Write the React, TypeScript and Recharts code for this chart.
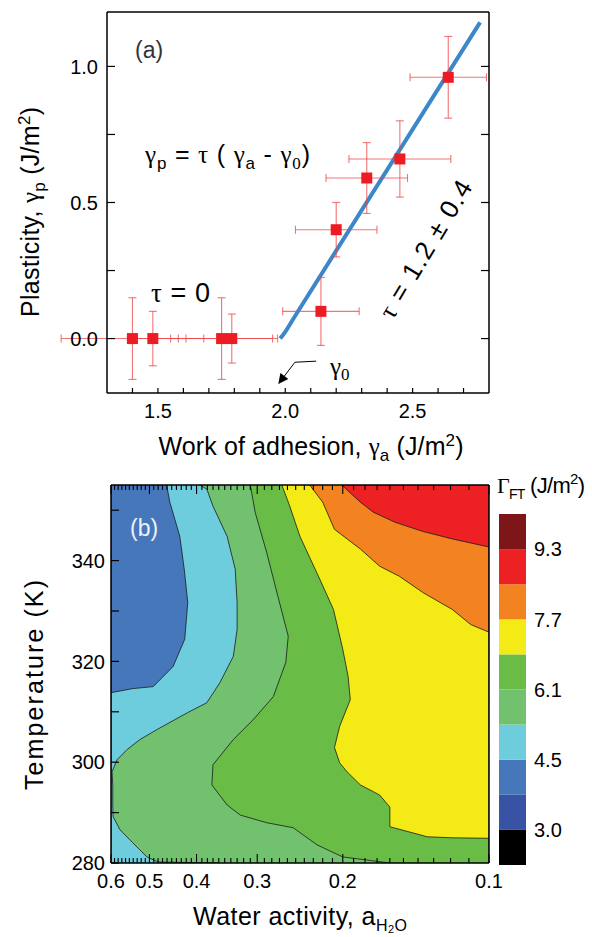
import React from 'react';
import {
  ComposedChart, BarChart, Bar, Scatter, Line, Area, XAxis, YAxis, ZAxis, ErrorBar, ReferenceLine,
} from 'recharts';

const SANS = "'Liberation Sans', Arial, sans-serif";
const SERIF = "'Liberation Serif', 'DejaVu Serif', serif";

// ---- (a) plasticity vs work of adhesion
const gammaA = [1.40, 1.48, 1.75, 1.79, 2.14, 2.20, 2.32, 2.45, 2.64];
const gammaP = [0, 0, 0, 0, 0.10, 0.40, 0.59, 0.66, 0.96];
const gammaAErr = [0.28, 0.10, 0.20, 0.18, 0.15, 0.16, 0.16, 0.20, 0.15];
const gammaPErr = [0.15, 0.10, 0.15, 0.09, 0.125, 0.10, 0.13, 0.14, 0.15];

// fitted line gamma_p = tau (gamma_a - gamma_0)
const fitA = [1.98, 2.0, 2.03, 2.07, 2.765];
const fitP = [0, 0.025, 0.07, 0.13, 1.162];

// arrow pointing at gamma_0
const arrowA = [2.121, 2.038, 1.975];
const arrowP = [-0.083, -0.087, -0.164];

const adhesionTicks = [1.4, 1.5, 1.6, 1.7, 1.8, 1.9, 2.0, 2.1, 2.2, 2.3, 2.4, 2.5, 2.6, 2.7];
const adhesionLabels = [1.5, 2.0, 2.5];
const plastTicks = [0, 0.25, 0.5, 0.75, 1.0];
const plastLabels = [0, 0.5, 1.0];

// ---- (b) fracture toughness map, boundaries of each level set (T in K, water activity)
const baseT = [280, 355];
const baseA = [0.6, 0.6];
const cyanT = [280, 313.8, 314.6, 315.0, 319.0, 324.4, 331.7, 338.3, 344.8, 351.6, 355];
const cyanA = [0.6, 0.6, 0.541, 0.491, 0.447, 0.423, 0.417, 0.424, 0.433, 0.454, 0.461];
const lightGreenT = [280, 280.2, 281.2, 284.0, 286.6, 289.2, 291.5, 295.5, 298.1, 300.5, 302.5, 304.5, 306.5, 309.8, 311.8, 315.8, 321.0, 326.3, 331.7, 338.3, 344.8, 350.8, 354.2, 355];
const lightGreenA = [0.36, 0.48, 0.506, 0.541, 0.575, 0.594, 0.595, 0.595, 0.597, 0.583, 0.556, 0.523, 0.482, 0.418, 0.381, 0.358, 0.336, 0.330, 0.330, 0.333, 0.346, 0.370, 0.381, 0.394];
const greenT = [280, 281.2, 283.6, 287.0, 288.0, 289.5, 291.5, 295.5, 299.5, 304.5, 308.4, 313.0, 319.8, 325.0, 332.9, 341.7, 349.6, 355];
const greenA = [0.160, 0.200, 0.226, 0.253, 0.287, 0.325, 0.346, 0.372, 0.370, 0.336, 0.306, 0.278, 0.262, 0.259, 0.272, 0.287, 0.303, 0.310];
const yellowT = [284.9, 285.0, 285.2, 287.2, 291.1, 293.5, 295.5, 298.1, 299.9, 302.9, 307.1, 312.4, 317.0, 322.4, 330.3, 336.3, 344.8, 351.2, 355];
const yellowA = [0.1, 0.119, 0.134, 0.160, 0.160, 0.168, 0.184, 0.196, 0.203, 0.208, 0.203, 0.193, 0.195, 0.200, 0.209, 0.223, 0.245, 0.258, 0.267];
const orangeT = [325.8, 327.3, 330.3, 333.7, 336.9, 338.9, 342.3, 346.2, 351.6, 355];
const orangeA = [0.1, 0.109, 0.119, 0.137, 0.153, 0.168, 0.184, 0.208, 0.220, 0.234];
const redT = [342.7, 344.3, 345.8, 347.6, 349.6, 351.6, 355];
const redA = [0.1, 0.119, 0.137, 0.156, 0.173, 0.184, 0.201];

const activityTicks = [
  0.1, 0.11, 0.12, 0.13, 0.14, 0.15, 0.16, 0.17, 0.18, 0.19,
  0.2, 0.21, 0.22, 0.23, 0.24, 0.25, 0.26, 0.27, 0.28, 0.29,
  0.3, 0.31, 0.32, 0.33, 0.34, 0.35, 0.36, 0.37, 0.38, 0.39,
  0.4, 0.41, 0.42, 0.43, 0.44, 0.45, 0.46, 0.47, 0.48, 0.49,
  0.5, 0.51, 0.52, 0.53, 0.54, 0.55, 0.56, 0.57, 0.58, 0.59, 0.6,
];
const activityLabels = [0.6, 0.5, 0.4, 0.3, 0.2, 0.1];
const tempTicks = [280, 290, 300, 310, 320, 330, 340, 350];
const tempLabels = [280, 300, 320, 340];

// colour scale, bottom to top
const levelColors = ['#000000', '#3953a4', '#4677bb', '#6dcddc', '#72c16f', '#69bc46', '#f4ea15', '#f38321', '#ed2024', '#7e1518'];
const levelLabels = ['3.0', '4.5', '6.1', '7.7', '9.3'];
const levelLabelAt = [1, 3, 5, 7, 9];

const regions = [
  { name: 'blue', color: levelColors[2], T: baseT, a: baseA },
  { name: 'cyan', color: levelColors[3], T: cyanT, a: cyanA },
  { name: 'lightgreen', color: levelColors[4], T: lightGreenT, a: lightGreenA },
  { name: 'green', color: levelColors[5], T: greenT, a: greenA },
  { name: 'yellow', color: levelColors[6], T: yellowT, a: yellowA },
  { name: 'orange', color: levelColors[7], T: orangeT, a: orangeA },
  { name: 'red', color: levelColors[8], T: redT, a: redA },
];

const points = gammaA.map((x, i) => ({ x, y: gammaP[i], ex: gammaAErr[i], ey: gammaPErr[i] }));
const fitData = fitA.map((x, i) => ({ x, y: fitP[i] }));
const toSpan = (T: number[], a: number[]) => T.map((t, i) => ({ T: t, span: [0.1, a[i]] }));
const colorbarRow = [levelColors.reduce((row: any, _c, i) => ({ ...row, ['b' + i]: 1 }), { name: 'G' })];

const tickFont = { fontFamily: SANS, fontSize: 20, fill: '#000' };
const axisLine = { stroke: '#000', strokeWidth: 1.5 };

function AdhesionTick({ x, y, payload }: any) {
  const lab = adhesionLabels.includes(payload.value);
  return (
    <g>
      <line x1={x} x2={x} y1={y} y2={y - 5} stroke="#000" strokeWidth={1.2} />
      {lab && <text x={x} y={y + 25} textAnchor="middle" style={tickFont}>{payload.value.toFixed(1)}</text>}
    </g>
  );
}
function TopTick({ x, y }: any) {
  return <line x1={x} x2={x} y1={y} y2={y + 5} stroke="#000" strokeWidth={1.2} />;
}
function PlastTick({ x, y, payload }: any) {
  const lab = plastLabels.includes(payload.value);
  return (
    <g>
      <line x1={x} x2={x + 8} y1={y} y2={y} stroke="#000" strokeWidth={1.2} />
      {lab && <text x={x - 9} y={y} dy="0.36em" textAnchor="end" style={tickFont}>{payload.value.toFixed(1)}</text>}
    </g>
  );
}
function RightTick({ x, y }: any) {
  return <line x1={x} x2={x - 8} y1={y} y2={y} stroke="#000" strokeWidth={1.2} />;
}
function ActivityTick({ x, y, payload }: any) {
  const lab = activityLabels.includes(payload.value);
  return (
    <g>
      <line x1={x} x2={x} y1={y} y2={y - (lab ? 9 : 5)} stroke="#000" strokeWidth={1.1} />
      {lab && <text x={x} y={y + 25} textAnchor="middle" style={tickFont}>{payload.value.toFixed(1)}</text>}
    </g>
  );
}
function ActivityTopTick({ x, y, payload }: any) {
  const lab = activityLabels.includes(payload.value);
  return <line x1={x} x2={x} y1={y} y2={y + (lab ? 9 : 5)} stroke="#000" strokeWidth={1.1} />;
}
function TempTick({ x, y, payload }: any) {
  const lab = tempLabels.includes(payload.value);
  return (
    <g>
      <line x1={x} x2={x + 8} y1={y} y2={y} stroke="#000" strokeWidth={1.2} />
      {lab && <text x={x - 6} y={y} dy="0.36em" textAnchor="end" style={tickFont}>{payload.value}</text>}
    </g>
  );
}
function LevelTick({ x, y, payload }: any) {
  const i = levelLabelAt.indexOf(payload.value);
  return <text x={x + 8} y={y} dy="0.36em" textAnchor="start" style={tickFont}>{levelLabels[i]}</text>;
}

const pre = { whiteSpace: 'pre' as const };
const title = { fontFamily: SANS, fontSize: 25, fill: '#000', ...pre };

export default function App() {
  return (
    <div style={{ position: 'absolute', left: 0, top: 0, width: 592, height: 937, background: '#fff' }}>
      <div style={{ position: 'absolute', left: 0, top: 0 }}>
        <ComposedChart width={592} height={470} margin={{ top: 11, right: 102, bottom: 76, left: 106 }}>
          <Line data={fitData} dataKey="y" type="monotone" stroke="#3a87c9" strokeWidth={4} dot={false} activeDot={false} isAnimationActive={false} />
          <ReferenceLine segment={[{ x: arrowA[0], y: arrowP[0] }, { x: arrowA[1], y: arrowP[1] }]} stroke="#000" strokeWidth={1} />
          <ReferenceLine segment={[{ x: arrowA[1], y: arrowP[1] }, { x: arrowA[2], y: arrowP[2] }]} stroke="#000" strokeWidth={1} markerEnd="url(#arrowHead)" />
          <ZAxis range={[121, 121]} />
          <Scatter data={points} fill="#ed1c24" shape="square" isAnimationActive={false}>
            <ErrorBar dataKey="ex" direction="x" width={4} stroke="#ef4545" strokeOpacity={0.75} strokeWidth={1.1} />
            <ErrorBar dataKey="ey" direction="y" width={4} stroke="#ef4545" strokeOpacity={0.75} strokeWidth={1.1} />
          </Scatter>
          <XAxis type="number" dataKey="x" domain={[1.3, 2.8]} allowDataOverflow ticks={adhesionTicks} interval={0}
            height={1} tickSize={0} tickMargin={0} tick={AdhesionTick} axisLine={axisLine} tickLine={false} />
          <XAxis xAxisId="top" orientation="top" type="number" domain={[1.3, 2.8]} allowDataOverflow ticks={adhesionTicks} interval={0}
            height={1} tickSize={0} tickMargin={0} tick={TopTick} axisLine={axisLine} tickLine={false} />
          <YAxis type="number" dataKey="y" domain={[-0.2, 1.2]} allowDataOverflow ticks={plastTicks} interval={0}
            width={1} tickSize={0} tickMargin={0} tick={PlastTick} axisLine={axisLine} tickLine={false} />
          <YAxis yAxisId="right" orientation="right" type="number" domain={[-0.2, 1.2]} allowDataOverflow ticks={plastTicks} interval={0}
            width={1} tickSize={0} tickMargin={0} tick={RightTick} axisLine={axisLine} tickLine={false} />
        </ComposedChart>
      </div>

      <div style={{ position: 'absolute', left: 0, top: 470 }}>
        <ComposedChart layout="vertical" width={592} height={467} margin={{ top: 14, right: 102, bottom: 73, left: 110 }}>
          {regions.map((r) => (
            <Area key={r.name} data={toSpan(r.T, r.a)} dataKey="span" type="linear" fill={r.color} fillOpacity={1}
              stroke="#1a1a1a" strokeWidth={0.8} dot={false} activeDot={false} isAnimationActive={false} />
          ))}
          <XAxis type="number" scale="log" domain={[0.1, 0.6]} reversed allowDataOverflow ticks={activityTicks} interval={0}
            height={1} tickSize={0} tickMargin={0} tick={ActivityTick} axisLine={axisLine} tickLine={false} />
          <XAxis xAxisId="top" orientation="top" type="number" scale="log" domain={[0.1, 0.6]} reversed allowDataOverflow ticks={activityTicks} interval={0}
            height={1} tickSize={0} tickMargin={0} tick={ActivityTopTick} axisLine={axisLine} tickLine={false} />
          <YAxis type="number" dataKey="T" domain={[280, 355]} reversed allowDataOverflow ticks={tempTicks} interval={0}
            width={1} tickSize={0} tickMargin={0} tick={TempTick} axisLine={axisLine} tickLine={false} />
          <YAxis yAxisId="right" orientation="right" type="number" domain={[280, 355]} reversed allowDataOverflow ticks={tempTicks} interval={0}
            width={1} tickSize={0} tickMargin={0} tick={RightTick} axisLine={axisLine} tickLine={false} />
        </ComposedChart>
      </div>

      <div style={{ position: 'absolute', left: 480, top: 470 }}>
        <BarChart width={112} height={467} data={colorbarRow} margin={{ top: 44, right: 65, bottom: 72, left: 19 }} barCategoryGap={0} barGap={0}>
          <XAxis type="category" dataKey="name" hide />
          {levelColors.map((c, i) => (
            <Bar key={c} dataKey={'b' + i} stackId="cb" fill={c} isAnimationActive={false} />
          ))}
          <YAxis orientation="right" type="number" domain={[0, 10]} ticks={levelLabelAt} interval={0}
            width={1} tickSize={0} tickMargin={0} tick={LevelTick} axisLine={false} tickLine={false} />
        </BarChart>
      </div>

      <svg width={592} height={937} style={{ position: 'absolute', left: 0, top: 0, pointerEvents: 'none' }}>
        <defs>
          <marker id="arrowHead" viewBox="0 0 10 10" refX={9} refY={5} markerWidth={14} markerHeight={10} markerUnits="userSpaceOnUse" orient="auto">
            <path d="M0,0 L10,5 L0,10 z" fill="#000" />
          </marker>
        </defs>
        {/* panel (a) */}
        <text x={135} y={58} style={{ fontFamily: SANS, fontSize: 23, fill: '#333' }}>(a)</text>
        <text x={145} y={163} textLength={165} lengthAdjust="spacing" style={{ fontFamily: SANS, fontSize: 25, fill: '#000', ...pre }}>
          <tspan fontFamily={SERIF}>γ</tspan><tspan fontSize={17} dy={6}>p</tspan>
          <tspan dy={-6}> = </tspan><tspan fontFamily={SERIF}>τ</tspan><tspan> ( </tspan>
          <tspan fontFamily={SERIF}>γ</tspan><tspan fontSize={17} dy={6}>a</tspan>
          <tspan dy={-6}> - </tspan><tspan fontFamily={SERIF}>γ</tspan><tspan fontSize={17} dy={6} fontFamily={SERIF}>0</tspan>
          <tspan dy={-6}>)</tspan>
        </text>
        <text x={151} y={302} textLength={59} lengthAdjust="spacing" style={{ fontFamily: SANS, fontSize: 27, fill: '#000', ...pre }}>
          <tspan fontFamily={SERIF}>τ</tspan><tspan> = 0</tspan>
        </text>
        <text transform="translate(425,249) rotate(-59)" textAnchor="middle" dy="0.36em" textLength={156} lengthAdjust="spacing"
          style={{ fontFamily: SANS, fontSize: 26, fill: '#000', ...pre }}>
          <tspan fontFamily={SERIF}>τ</tspan><tspan> = 1.2 ± 0.4</tspan>
        </text>
        <text x={330} y={375} style={{ fontFamily: SERIF, fontSize: 25, fill: '#000' }}>
          <tspan>γ</tspan><tspan fontSize={17} dy={5}>0</tspan>
        </text>
        <text transform="translate(39,212) rotate(-90)" textAnchor="middle" textLength={210} lengthAdjust="spacing" style={title}>
          <tspan>Plasticity, </tspan><tspan fontFamily={SERIF}>γ</tspan><tspan fontSize={17} dy={6}>p</tspan>
          <tspan dy={-6}> (J/m</tspan><tspan fontSize={17} dy={-9}>2</tspan><tspan dy={9}>)</tspan>
        </text>
        <text x={311} y={455} textAnchor="middle" textLength={305} lengthAdjust="spacing" style={title}>
          <tspan>Work of adhesion, </tspan><tspan fontFamily={SERIF}>γ</tspan><tspan fontSize={17} dy={6}>a</tspan>
          <tspan dy={-6}> (J/m</tspan><tspan fontSize={17} dy={-9}>2</tspan><tspan dy={9}>)</tspan>
        </text>

        {/* panel (b) */}
        <text x={130} y={536} style={{ fontFamily: SANS, fontSize: 23, fill: '#eef2fa' }}>(b)</text>
        <text transform="translate(43,685) rotate(-90)" textAnchor="middle" textLength={210} lengthAdjust="spacing" style={title}>
          Temperature (K)
        </text>
        <text x={300} y={925} textAnchor="middle" textLength={214} lengthAdjust="spacing" style={title}>
          <tspan>Water activity, a</tspan><tspan fontSize={16} dy={6}>H</tspan><tspan fontSize={11} dy={2}>2</tspan>
          <tspan fontSize={16} dy={-2}>O</tspan>
        </text>
        <text x={497} y={493} textLength={88} lengthAdjust="spacing" style={{ fontFamily: SANS, fontSize: 22, fill: '#000', ...pre }}>
          <tspan fontFamily={SERIF}>Γ</tspan><tspan fontSize={14} dy={6}>FT</tspan>
          <tspan dy={-6}> (J/m</tspan><tspan fontSize={15} dy={-9}>2</tspan><tspan dy={9}>)</tspan>
        </text>
      </svg>
    </div>
  );
}
